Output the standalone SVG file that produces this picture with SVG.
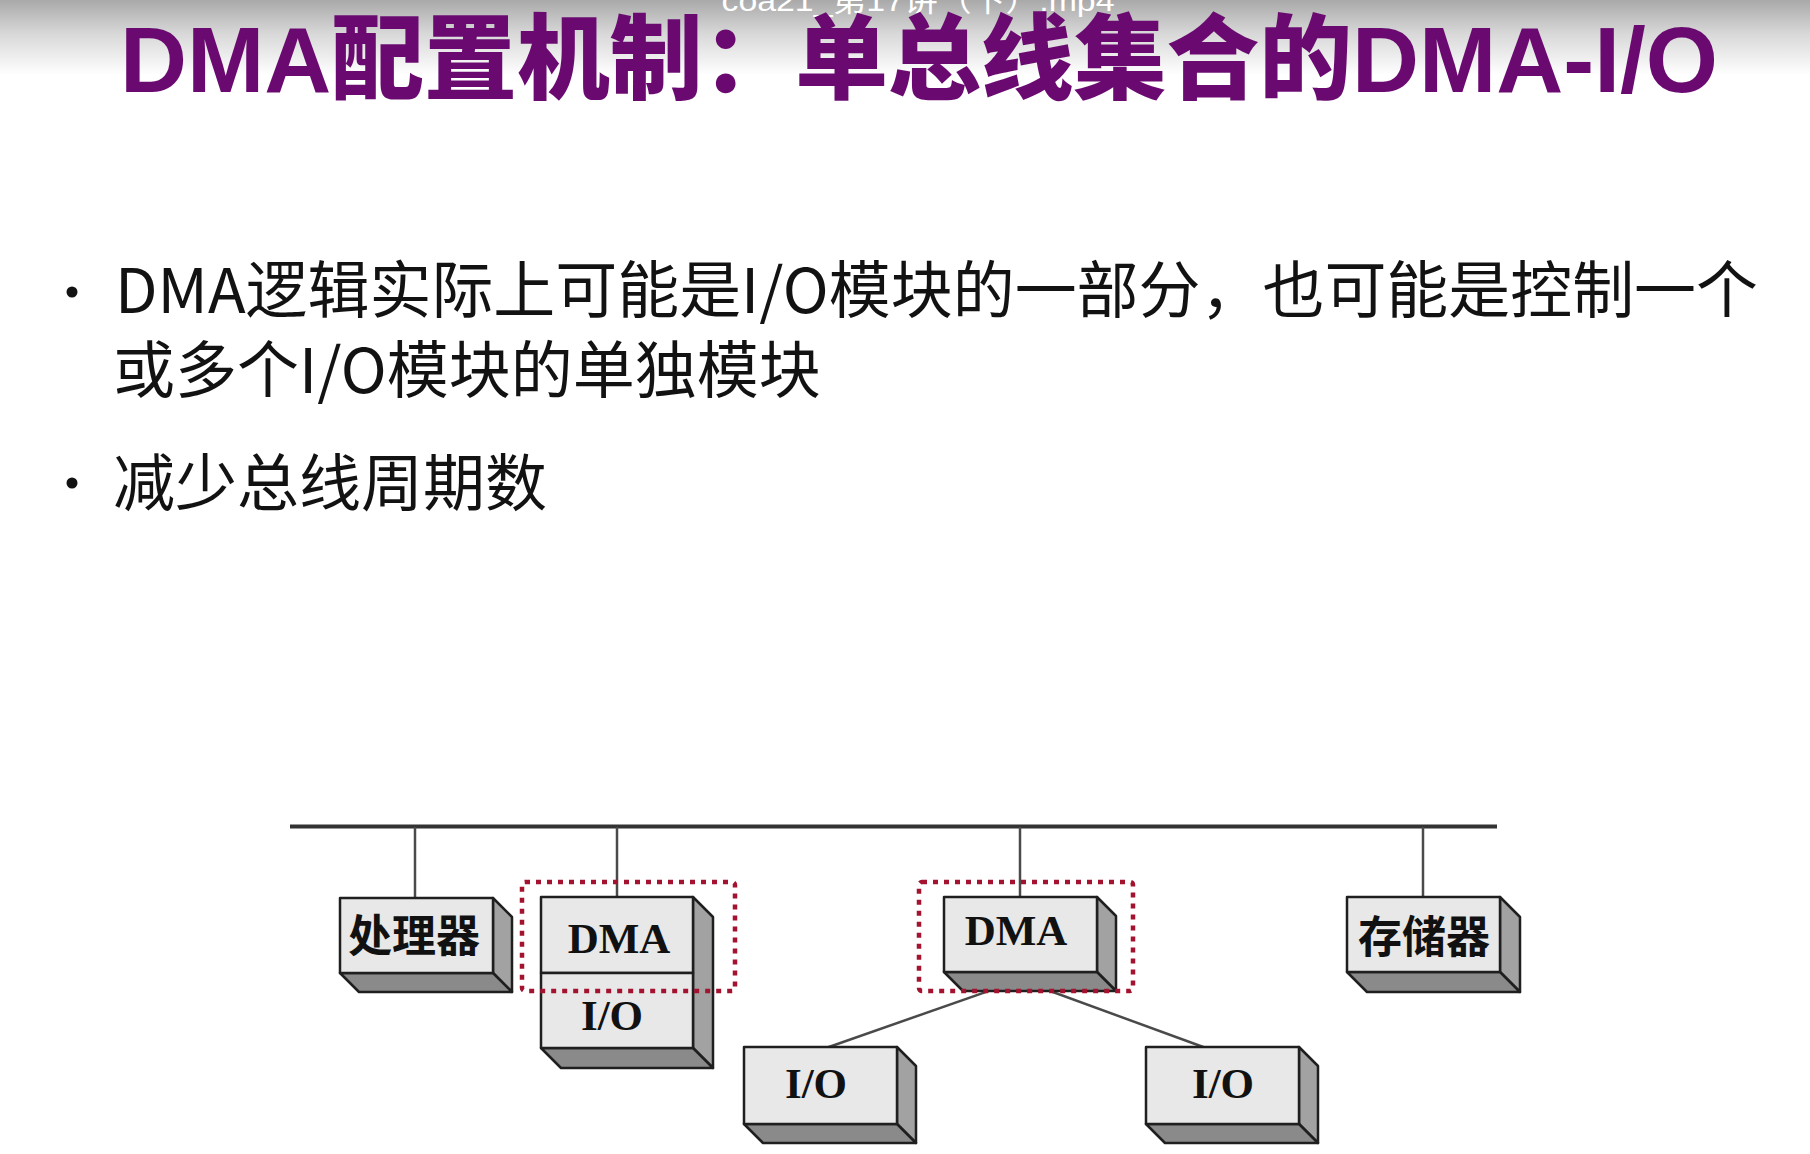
<svg xmlns="http://www.w3.org/2000/svg" width="1810" height="1154" viewBox="0 0 1810 1154">
<defs>
<linearGradient id="topShade" x1="0" y1="0" x2="0" y2="1">
<stop offset="0" stop-color="#a9a9a9"/>
<stop offset="0.45" stop-color="#d8d8d8"/>
<stop offset="1" stop-color="#ffffff"/>
</linearGradient>
<style>
.title{font-family:"Liberation Sans","Noto Sans CJK SC",sans-serif;font-weight:900;font-size:93px;fill:#6a0a70}
.overlay{font-family:"Liberation Sans","Noto Sans CJK SC",sans-serif;font-size:30px;fill:#ffffff}
.bullet{font-family:"Noto Sans CJK SC",sans-serif;font-size:62px;fill:#121212}
.dot{fill:#121212}
.bus{stroke:#333333;stroke-width:4;fill:none}
.wire{stroke:#4a4a4a;stroke-width:2.5;fill:none}
.front{fill:#e8e8e8;stroke:#1f1f1f;stroke-width:2.5;stroke-linejoin:round}
.side{fill:#a2a2a2;stroke:#1f1f1f;stroke-width:2.5;stroke-linejoin:round}
.bottom{fill:#8a8a8a;stroke:#1f1f1f;stroke-width:2.5;stroke-linejoin:round}
.cjk{font-family:"Noto Sans CJK SC",sans-serif;font-weight:bold;font-size:44px;fill:#111;text-anchor:middle}
.lat{font-family:"Liberation Serif","Times New Roman",serif;font-weight:bold;font-size:43px;fill:#111;text-anchor:middle}
.sel{fill:none;stroke:#a3122e;stroke-width:4.5;stroke-dasharray:5 6}
</style>
</defs>
<rect x="0" y="0" width="1810" height="1154" fill="#ffffff"/>
<rect x="0" y="0" width="1810" height="75" fill="url(#topShade)"/>
<text class="overlay" x="918" y="11" text-anchor="middle" textLength="393" lengthAdjust="spacingAndGlyphs">coa21_第17讲（下）.mp4</text>
<text class="title" x="120" y="92" textLength="1598" lengthAdjust="spacingAndGlyphs">DMA配置机制：单总线集合的DMA-I/O</text>

<g id="bullets">
<circle class="dot" cx="72" cy="292" r="5.5"/>
<text class="bullet" x="115" y="313" textLength="1643" lengthAdjust="spacingAndGlyphs">DMA逻辑实际上可能是I/O模块的一部分，也可能是控制一个</text>
<text class="bullet" x="113" y="393">或多个I/O模块的单独模块</text>
<circle class="dot" cx="72" cy="483" r="5.5"/>
<text class="bullet" x="113" y="506">减少总线周期数</text>
</g>

<g id="connectors">
<line class="bus" x1="290" y1="826.5" x2="1497" y2="826.5"/>
<line class="wire" x1="415" y1="827" x2="415" y2="898"/>
<line class="wire" x1="617" y1="827" x2="617" y2="897"/>
<line class="wire" x1="1020" y1="827" x2="1020" y2="897"/>
<line class="wire" x1="1423" y1="827" x2="1423" y2="897"/>
<line class="wire" x1="1020" y1="980" x2="826" y2="1048"/>
<line class="wire" x1="1020" y1="980" x2="1206" y2="1048"/>
</g>

<g id="processor">
<polygon class="side" points="493,898 512,917 512,992 493,973"/>
<polygon class="bottom" points="340,973 493,973 512,992 359,992"/>
<rect class="front" x="340" y="898" width="153" height="75"/>
<text class="cjk" x="414" y="952">处理器</text>
</g>

<g id="dma-io-module">
<polygon class="side" points="693,897 713,917 713,1068 693,1048"/>
<polygon class="bottom" points="541,1048 693,1048 713,1068 561,1068"/>
<rect class="front" x="541" y="897" width="152" height="76"/>
<rect class="front" x="541" y="973" width="152" height="75"/>
<text class="lat" x="619" y="953">DMA</text>
<text class="lat" x="612" y="1030">I/O</text>
</g>

<g id="dma-module">
<polygon class="side" points="1097,897 1116,916 1116,991 1097,972"/>
<polygon class="bottom" points="944,972 1097,972 1116,991 963,991"/>
<rect class="front" x="944" y="897" width="153" height="75"/>
<text class="lat" x="1016" y="945">DMA</text>
</g>

<g id="memory">
<polygon class="side" points="1500,897 1520,917 1520,992 1500,972"/>
<polygon class="bottom" points="1347,972 1500,972 1520,992 1367,992"/>
<rect class="front" x="1347" y="897" width="153" height="75"/>
<text class="cjk" x="1424" y="953">存储器</text>
</g>

<g id="io-left">
<polygon class="side" points="897,1047 916,1066 916,1143 897,1124"/>
<polygon class="bottom" points="744,1124 897,1124 916,1143 763,1143"/>
<rect class="front" x="744" y="1047" width="153" height="77"/>
<text class="lat" x="816" y="1098">I/O</text>
</g>

<g id="io-right">
<polygon class="side" points="1299,1047 1318,1066 1318,1143 1299,1124"/>
<polygon class="bottom" points="1146,1124 1299,1124 1318,1143 1165,1143"/>
<rect class="front" x="1146" y="1047" width="153" height="77"/>
<text class="lat" x="1223" y="1098">I/O</text>
</g>

<g id="dma-highlight-1">
<rect class="sel" x="522" y="882" width="213" height="109" rx="3"/>
</g>
<g id="dma-highlight-2">
<rect class="sel" x="919" y="882" width="214" height="109" rx="3"/>
</g>
</svg>
